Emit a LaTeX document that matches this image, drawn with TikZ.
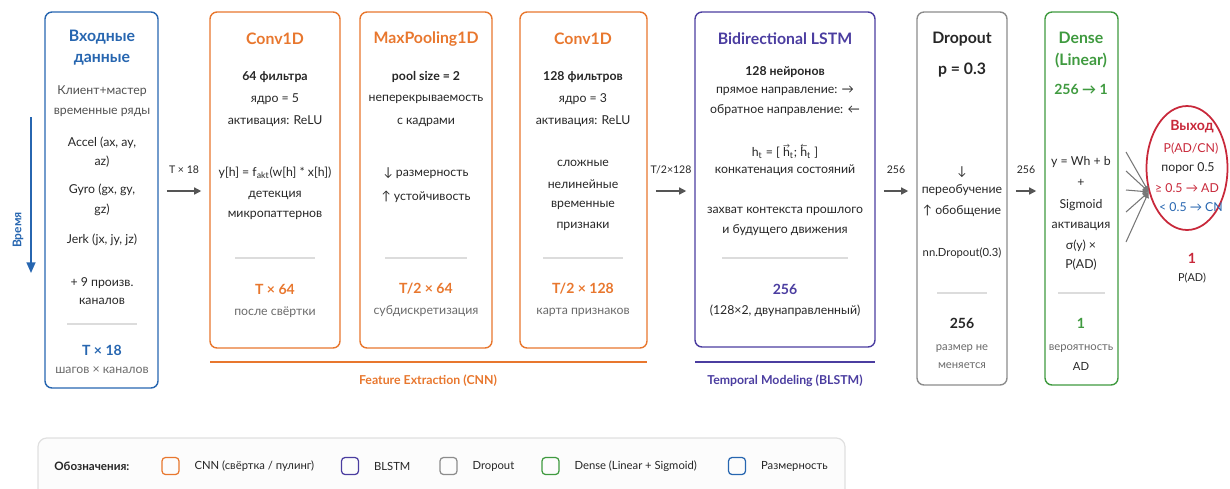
\documentclass[tikz,border=0pt]{standalone}
\usepackage{fontspec}
\setmainfont{Lato}
\usetikzlibrary{arrows.meta, calc, fit, positioning, shapes.geometric}

\definecolor{cnnC}{HTML}{E8772E}
\definecolor{lstmC}{HTML}{4B3DA0}
\definecolor{dropC}{HTML}{8C8C8C}
\definecolor{denseC}{HTML}{3F9A3F}
\definecolor{dimC}{HTML}{2766B0}
\definecolor{outC}{HTML}{C8283A}
\definecolor{ink}{HTML}{262626}
\definecolor{mute}{HTML}{6A6A6A}
\definecolor{rule}{HTML}{DCDCDC}
\definecolor{arrowC}{HTML}{555555}

% small arrows over a letter
\newcommand{\fwd}[1]{\ooalign{#1\cr\hidewidth\raisebox{1.35ex}{\fontsize{4}{4}\selectfont →}\hidewidth\cr}}
\newcommand{\bwd}[1]{\ooalign{#1\cr\hidewidth\raisebox{1.35ex}{\fontsize{4}{4}\selectfont ←}\hidewidth\cr}}

\begin{document}
\begin{tikzpicture}[x=0.02cm, y=-0.02cm, % one unit = one pixel of the layout grid
         > = {Triangle[length=4pt, width=4pt]},
layer/.style = {draw=#1, line width=0.8pt, rounded corners=4pt,
                inner sep=0pt, outer sep=0pt},
  ttl/.style = {font=\fontsize{9}{11}\selectfont\bfseries, text=#1, inner sep=1pt},
  txt/.style = {font=\fontsize{7}{8.5}\selectfont, text=ink, inner sep=1pt},
  btx/.style = {txt, font=\fontsize{7}{8.5}\selectfont\bfseries},
  dim/.style = {font=\fontsize{8}{10}\selectfont\bfseries, text=#1, inner sep=1pt},
 note/.style = {txt, text=mute},
 tiny/.style = {font=\fontsize{6.4}{8}\selectfont},
  sep/.style = {draw=rule, line width=0.6pt},
 flow/.style = {->, draw=arrowC, line width=0.8pt, shorten <=5pt, shorten >=5pt},
 flab/.style = {font=\fontsize{6}{7}\selectfont, text=ink, above=6pt},
  fan/.style = {->, draw=arrowC!80, line width=0.6pt,
                > = {Triangle[length=3.5pt, width=3pt]}},
group/.style = {draw=#1, line width=1pt},
 gtxt/.style = {font=\fontsize{7}{8.5}\selectfont\bfseries, text=#1},
  key/.style = {draw=#1, line width=0.7pt, rounded corners=2pt,
                minimum size=0.34cm, inner sep=0pt},
  ktx/.style = {font=\fontsize{6.4}{8}\selectfont, text=ink, right=5pt of #1}
                        ]
	\clip (0,0) rectangle (1230,488);
	\coordinate (lane) at (0,191); % height of the data-flow arrows

	% time axis
	\coordinate (tA) at (31,117);
	\coordinate (tB) at (31,273);
	\draw[->, dimC, line width=1pt, > = {Triangle[length=6pt, width=5pt]}] (tA) -- (tB);
	\node[rotate=90, font=\fontsize{6.8}{8}\selectfont\bfseries, text=dimC] (time) at (18,230) {Время};

	% input data
	\node[layer=dimC, fit={(45,12) (158,388)}] (inp) {};
	\node[ttl=dimC] (inp-t1) at (102,37) {Входные};
	\node[ttl=dimC] (inp-t2) at (102,60) {данные};
	\node[txt, text=ink!80] (inp-s1) at (102,91) {Клиент+мастер};
	\node[txt, text=ink!80] (inp-s2) at (102,112) {временные ряды};
	\foreach \y/\t [count=\i] in {143/{Accel (ax, ay,}, 162/{az)}, 190/{Gyro (gx, gy,},
	                             210/{gz)}, 240/{Jerk (jx, jy, jz)}, 283/{+ 9 произв.}, 301/{каналов}}
		\node[txt] (inp-\i) at (102,\y) {\t};
	\draw[sep] (67,324) -- (137,324);
	\node[dim=dimC] (inp-d) at (102,350) {T × 18};
	\node[note] (inp-n) at (102,370) {шагов × каналов};

	% first convolution
	\node[layer=cnnC, fit={(210,12) (340,348)}] (conv1) {};
	\node[ttl=cnnC] (conv1-t) at (275,39) {Conv1D};
	\node[btx] (conv1-b) at (275,77) {64 фильтра};
	\foreach \y/\t [count=\i] in {99/{ядро = 5}, 121/{активация: ReLU},
	                             173/{y[h] = f\textsubscript{akt}(w[h] * x[h])}, 195/{детекция}, 215/{микропаттернов}}
		\node[txt] (conv1-\i) at (275,\y) {\t};
	\draw[sep] (235,258) -- (315,258);
	\node[dim=cnnC] (conv1-d) at (275,289) {T × 64};
	\node[note] (conv1-n) at (275,312) {после свёртки};

	% pooling
	\node[layer=cnnC, fit={(360,12) (492,348)}] (pool) {};
	\node[ttl=cnnC] (pool-t) at (426,39) {MaxPooling1D};
	\node[btx] (pool-b) at (426,77) {pool size = 2};
	\foreach \y/\t [count=\i] in {99/{неперекрываемость}, 122/{с кадрами},
	                             173/{↓ размерность}, 197/{↑ устойчивость}}
		\node[txt] (pool-\i) at (426,\y) {\t};
	\draw[sep] (385,258) -- (467,258);
	\node[dim=cnnC] (pool-d) at (426,289) {T/2 × 64};
	\node[note] (pool-n) at (426,311) {субдискретизация};

	% second convolution
	\node[layer=cnnC, fit={(520,12) (647,348)}] (conv2) {};
	\node[ttl=cnnC] (conv2-t) at (583,39) {Conv1D};
	\node[btx] (conv2-b) at (583,77) {128 фильтров};
	\foreach \y/\t [count=\i] in {99/{ядро = 3}, 121/{активация: ReLU}, 163/{сложные},
	                             184/{нелинейные}, 205/{временные}, 226/{признаки}}
		\node[txt] (conv2-\i) at (583,\y) {\t};
	\draw[sep] (543,258) -- (623,258);
	\node[dim=cnnC] (conv2-d) at (583,289) {T/2 × 128};
	\node[note] (conv2-n) at (583,312) {карта признаков};

	% bidirectional LSTM
	\node[layer=lstmC, fit={(695,12) (875,347)}] (blstm) {};
	\node[ttl=lstmC] (blstm-t) at (785,39) {Bidirectional LSTM};
	\node[btx] (blstm-b) at (785,72) {128 нейронов};
	\foreach \y/\t [count=\i] in {91/{прямое направление: →}, 110/{обратное направление: ←},
	                             153/{h\textsubscript{t} = [ \fwd{h}\textsubscript{t}; \bwd{h}\textsubscript{t} ]},
	                             170/{конкатенация состояний}, 211/{захват контекста прошлого}, 230/{и будущего движения}}
		\node[txt] (blstm-\i) at (785,\y) {\t};
	\draw[sep] (722,258) -- (848,258);
	\node[dim=lstmC] (blstm-d) at (785,289) {256};
	\node[txt] (blstm-n) at (785,311) {(128×2, двунаправленный)};

	% dropout
	\node[layer=dropC, fit={(917,12) (1007,385)}] (drop) {};
	\node[ttl=ink] (drop-t) at (962,39) {Dropout};
	\node[ttl=ink] (drop-p) at (962,70) {p = 0.3};
	\foreach \y/\t [count=\i] in {172/{↓}, 190/{переобучение}, 211/{↑ обобщение}}
		\node[txt] (drop-\i) at (962,\y) {\t};
	\node[txt, tiny] (drop-4) at (962,253) {nn.Dropout(0.3)};
	\draw[sep] (937,293) -- (987,293);
	\node[dim=ink] (drop-d) at (962,323) {256};
	\node[note, tiny] (drop-n1) at (962,349) {размер не};
	\node[note, tiny] (drop-n2) at (962,366) {меняется};

	% dense output layer
	\node[layer=denseC, fit={(1045,12) (1118,385)}] (dense) {};
	\node[ttl=denseC] (dense-t1) at (1081,38) {Dense};
	\node[ttl=denseC] (dense-t2) at (1081,61) {(Linear)};
	\node[dim=denseC] (dense-b) at (1081,89) {256 → 1};
	\foreach \y/\t [count=\i] in {162/{y = Wh + b}, 183/{+}, 205/{Sigmoid}, 226/{активация},
	                             246/{σ(y) ×}, 265/{P(AD)}}
		\node[txt] (dense-\i) at (1081,\y) {\t};
	\draw[sep] (1058,293) -- (1105,293);
	\node[dim=denseC] (dense-d) at (1081,323) {1};
	\node[note, tiny] (dense-n1) at (1081,349) {вероятность};
	\node[txt, tiny] (dense-n2) at (1081,366) {AD};

	% prediction
	\node[draw=outC, line width=1pt, ellipse, minimum width=1.62cm,
	      minimum height=2.48cm, inner sep=0pt] (out) at (1187,168) {};
	\node[font=\fontsize{8}{10}\selectfont\bfseries, text=outC] (out-t) at (1192,127) {Выход};
	\node[txt, text=outC] (out-1) at (1191,149) {P(AD/CN)};
	\node[txt] (out-2) at (1188,168) {порог 0.5};
	\node[txt, text=outC] (out-3) at (1187,188) {≥ 0.5 → AD};
	\node[txt, text=dimC] (out-4) at (1191,207) {< 0.5 → CN};
	\node[dim=outC] (out-d) at (1192,258) {1};
	\node[note, text=ink, font=\fontsize{6.2}{7}\selectfont] (out-n) at (1192,278) {P(AD)};
	\foreach \y [count=\i] in {152,171,190,212,242} {
		\coordinate (f\i) at (1126,\y);
		\draw[fan] (f\i) -- (out.212);
	}

	% data flow between the layers
	\draw[flow] (inp.east |- lane) -- (conv1.west |- lane) node[midway, flab] {T × 18};
	\draw[flow] (conv2.east |- lane) -- (blstm.west |- lane) node[midway, flab] {T/2×128};
	\draw[flow] (blstm.east |- lane) -- (drop.west |- lane) node[midway, flab] {256};
	\draw[flow] (drop.east |- lane) -- (dense.west |- lane) node[midway, flab] {256};

	% stage brackets
	\coordinate (cnnA) at (210,362);
	\coordinate (cnnB) at (647,362);
	\draw[group=cnnC] (cnnA) -- (cnnB);
	\node[gtxt=cnnC] (cnn-lbl) at (428,381) {Feature Extraction (CNN)};
	\coordinate (lstmA) at (695,362);
	\coordinate (lstmB) at (875,362);
	\draw[group=lstmC] (lstmA) -- (lstmB);
	\node[gtxt=lstmC] (lstm-lbl) at (785,381) {Temporal Modeling (BLSTM)};

	% legend
	\node[draw=black!12, fill=black!1, line width=0.7pt, rounded corners=5pt,
	      inner sep=0pt, fit={(38,438) (845,505)}] (leg) {};
	\node[font=\fontsize{6.6}{8}\selectfont\bfseries, text=ink, anchor=west, inner sep=0pt] (leg-t) at (54,466) {Обозначения:};
	\node[key=cnnC] (k1) at (170.5,466) {};
	\node[ktx=k1] (k1-t) {CNN (свёртка / пулинг)};
	\node[key=lstmC] (k2) at (350,466) {};
	\node[ktx=k2] (k2-t) {BLSTM};
	\node[key=dropC] (k3) at (448.5,466) {};
	\node[ktx=k3] (k3-t) {Dropout};
	\node[key=denseC] (k4) at (550.5,466) {};
	\node[ktx=k4] (k4-t) {Dense (Linear + Sigmoid)};
	\node[key=dimC] (k5) at (737,466) {};
	\node[ktx=k5] (k5-t) {Размерность};
\end{tikzpicture}
\end{document}
